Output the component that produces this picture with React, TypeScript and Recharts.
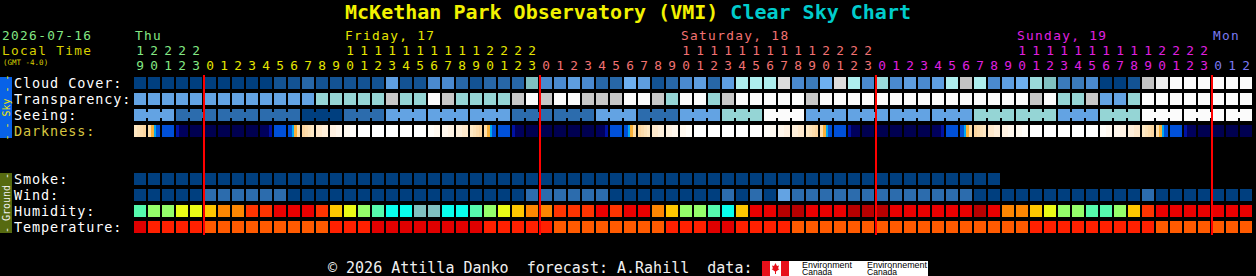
import React from 'react';
import { ScatterChart, Scatter, XAxis, YAxis, ReferenceLine } from 'recharts';

// forecast starts Thu 19:00 local, one column per hour
const startHour = 19;
const hourCount = 80;
const hours = Array.from({ length: hourCount }, (_, i) => (startHour + i) % 24);
const dayNames = ['Thu', 'Friday, 17', 'Saturday, 18', 'Sunday, 19', 'Mon'];

const rowLabels = ['Cloud Cover:', 'Transparency:', 'Seeing:', 'Darkness:', 'Smoke:', 'Wind:', 'Humidity:', 'Temperature:'];

// cloud cover level 0 (clear) .. 13 (overcast)
const cloudCover = [
  0, 0, 0, 0, 0, 0, 0, 0, 0, 0, 1, 1, 2, 1, 1, 1, 1, 1, 5, 1,
  1, 4, 4, 2, 1, 2, 2, 2, 7, 4, 4, 5, 4, 2, 2, 6, 5, 1, 2, 4,
  5, 2, 5, 9, 9, 9, 11, 4, 3, 6, 11, 9, 4, 8, 4, 5, 4, 5, 9, 10,
  9, 4, 5, 6, 8, 7, 3, 3, 4, 0, 0, 1, 10, 12, 13, 13, 13, 13, 13, 13,
];
// 0 transparent .. 4 poor, 5 too cloudy
const transparency = [
  2, 2, 2, 2, 2, 2, 2, 2, 2, 2, 2, 2, 2, 3, 3, 3, 3, 3, 4, 3,
  3, 5, 4, 3, 3, 3, 3, 4, 5, 4, 5, 5, 4, 4, 4, 5, 5, 4, 3, 5,
  5, 3, 4, 5, 5, 5, 5, 5, 4, 5, 5, 5, 5, 5, 5, 5, 5, 5, 5, 5,
  5, 5, 5, 5, 4, 5, 3, 3, 4, 2, 2, 3, 5, 5, 5, 5, 5, 5, 5, 5,
];
// 0 excellent .. 4 bad, 5 too cloudy (3-hour blocks)
const seeing = [
  2, 2, 2, 1, 1, 1, 1, 1, 1, 1, 1, 1, 0, 0, 0, 1, 1, 1, 2, 2,
  2, 2, 2, 2, 2, 2, 2, 1, 1, 1, 1, 1, 1, 2, 2, 2, 1, 1, 1, 2,
  2, 2, 3, 3, 3, 5, 5, 5, 2, 2, 2, 2, 2, 2, 2, 2, 2, 2, 2, 2,
  3, 3, 3, 3, 3, 3, 2, 2, 2, 3, 3, 3, 5, 5, 5, 5, 5, 5, 5, 5,
];
// 0 daylight .. 5 twilight .. 8 full dark
const darkness = [
  4, 5, 6, 7, 8, 8, 8, 8, 8, 7, 6, 5, 4, 3, 2, 1, 0, 0, 0, 0,
  0, 1, 2, 3, 4, 5, 6, 7, 8, 8, 8, 8, 8, 7, 6, 5, 4, 3, 2, 1,
  0, 0, 0, 0, 0, 1, 2, 3, 4, 5, 6, 7, 8, 8, 8, 8, 8, 7, 6, 5,
  4, 3, 2, 1, 0, 0, 0, 0, 0, 1, 2, 3, 4, 5, 6, 7, 8, 8, 8, 8,
];
// ug/m3, forecast shorter than the others
const smoke = [
  0, 0, 0, 0, 0, 0, 0, 0, 0, 0, 0, 0, 0, 0, 0, 0, 0, 0, 0, 0,
  0, 0, 0, 0, 0, 0, 0, 0, 0, 0, 0, 0, 0, 0, 0, 0, 0, 0, 0, 0,
  0, 0, 0, 0, 0, 0, 0, 0, 0, 0, 0, 0, 0, 0, 0, 0, 0, 0, 0, 0,
  0, 0,
];
// mph
const wind = [
  4, 4, 4, 4, 4, 8, 8, 8, 8, 8, 8, 4, 4, 4, 4, 4, 4, 4, 4, 4,
  4, 4, 4, 4, 4, 4, 4, 4, 8, 8, 8, 8, 8, 8, 4, 4, 4, 4, 4, 4,
  4, 4, 8, 4, 8, 4, 14, 8, 8, 8, 8, 8, 8, 8, 8, 8, 8, 8, 8, 8,
  4, 4, 4, 4, 4, 4, 4, 4, 4, 4, 4, 4, 8, 4, 4, 4, 4, 4, 4, 4,
];
// %
const humidity = [
  57, 62, 62, 67, 67, 72, 77, 77, 82, 82, 87, 87, 87, 82, 72, 67, 62, 57, 52, 52,
  47, 47, 52, 52, 57, 62, 67, 72, 77, 77, 82, 82, 82, 87, 82, 87, 87, 77, 72, 62,
  62, 57, 52, 72, 87, 87, 92, 92, 87, 87, 87, 92, 92, 92, 87, 87, 87, 87, 87, 87,
  92, 87, 77, 77, 72, 67, 62, 62, 57, 57, 62, 72, 82, 87, 87, 87, 87, 87, 87, 87,
];
// deg F
const temperature = [
  91, 84, 84, 84, 84, 76, 76, 76, 76, 76, 76, 76, 76, 76, 84, 84, 84, 91, 91, 91,
  91, 91, 91, 91, 91, 84, 84, 84, 84, 84, 76, 76, 76, 76, 76, 76, 76, 76, 84, 84,
  84, 91, 91, 84, 84, 84, 84, 76, 76, 76, 76, 76, 76, 76, 76, 76, 76, 76, 76, 76,
  76, 76, 76, 76, 84, 84, 84, 84, 84, 84, 84, 84, 84, 76, 76, 76, 76, 76, 76, 76,
];

const FONT = "'DejaVu Sans Mono', monospace";
const dayColors = ['#84e884', '#e6e600', '#f27272', '#e020e0', '#7a7af2'];

const cloudColors = ['#003F7F', '#135393', '#2767A7', '#3B7BBB', '#4A8AD0', '#5E9EE0', '#6EB0F0',
  '#80C0C0', '#9ADADA', '#AEEEEE', '#C4C4C4', '#DCDCDC', '#EEEEEE', '#FBFBFB'];
const skyColors = ['#003F7F', '#2C6CAD', '#63A3E3', '#95D5D5', '#C7C7C7', '#FBFBFB'];
const bucket = (stops: number[], palette: string[]) => (v: number) =>
  palette[stops.filter((s) => v >= s).length];
const smokeColor = bucket([2, 5, 10, 20], ['#003F7F', '#2C6CAD', '#63A3E3', '#95D5D5', '#C7C7C7']);
const windColor = bucket([6, 12, 17, 29, 45], skyColors);
const humidityColor = bucket(
  [25, 30, 35, 40, 45, 50, 55, 60, 65, 70, 75, 80, 85, 90, 95],
  ['#08035D', '#0D4D8D', '#3070B0', '#4E8ECE', '#71B1F1', '#80C0C0', '#09FEED', '#55FAAD',
    '#94FE6A', '#EAFB16', '#FEC600', '#FC8602', '#FE3401', '#EA0000', '#B70000', '#E10000'],
);
const tempColor = bucket([72, 81, 90], ['#FF9600', '#FF5A00', '#FF2000', '#E00000']);

// strips drawn left->right for evening; mirrored in the morning
const darkStrips: [string, number][][] = [
  [['#FFFFFF', 12]],
  [['#FFFDF9', 6], ['#FFF9F0', 6]],
  [['#FFF7EC', 6], ['#FFF2E2', 6]],
  [['#FFEFDA', 6], ['#FFE9CC', 6]],
  [['#FEE8C4', 3], ['#FDE2B8', 3], ['#FDDCAC', 3], ['#FCD6A0', 3]],
  [['#FDDDA8', 3], ['#F8B038', 3], ['#00A8F0', 2], ['#0050D8', 4]],
  [['#0050D8', 12]],
  [['#0012A4', 3], ['#00005C', 9]],
  [['#000050', 12]],
];

const dayOfCol: number[] = [];
hours.forEach((h, i) => dayOfCol.push(i === 0 ? 0 : dayOfCol[i - 1] + (h === 0 ? 1 : 0)));
const dayLabelCol = dayNames.map((_, d) => {
  const cols = hours.map((h, i) => i).filter((i) => dayOfCol[i] === d);
  const ten = cols.find((i) => hours[i] === 10);
  return ten !== undefined ? ten : cols[0];
});
const midnightCols = hours.map((h, i) => i).filter((i) => i > 0 && hours[i] === 0);

const cell = (color: (v: number) => string, bridge = false) => (p: any) => {
  const { cx, cy, payload } = p;
  const c = color(payload.v);
  return (
    <g>
      <rect x={cx} y={cy - 6} width={12} height={12} fill={c} />
      {bridge && payload.col % 3 !== 2 && payload.col < hourCount - 1 && (
        <rect x={cx + 12} y={cy - 3} width={2} height={6} fill={c} />
      )}
    </g>
  );
};

const darkCell = (p: any) => {
  const { cx, cy, payload } = p;
  const i = payload.col;
  const prev = darkness[i - 1] ?? payload.v;
  const next = darkness[i + 1] ?? payload.v;
  const strips = next >= prev ? darkStrips[payload.v] : [...darkStrips[payload.v]].reverse();
  let x = cx;
  return (
    <g>
      {strips.map(([c, w], k) => {
        const r = <rect key={k} x={x} y={cy - 6} width={w} height={12} fill={c} />;
        x += w;
        return r;
      })}
    </g>
  );
};

const rows = [
  { slot: 0, values: cloudCover, shape: cell((v) => cloudColors[v]) },
  { slot: 1, values: transparency, shape: cell((v) => skyColors[v]) },
  { slot: 2, values: seeing, shape: cell((v) => skyColors[v], true) },
  { slot: 3, values: darkness, shape: darkCell },
  { slot: 6, values: smoke, shape: cell(smokeColor) },
  { slot: 7, values: wind, shape: cell(windColor) },
  { slot: 8, values: humidity, shape: cell(humidityColor) },
  { slot: 9, values: temperature, shape: cell(tempColor) },
];
const slots = rows.map((r) => r.slot);

const HourTick = (p: any) => {
  const { x, payload } = p;
  const col = payload.value as number;
  const h = hours[col];
  const d = dayOfCol[col];
  const fill = dayColors[d];
  return (
    <g fontFamily={FONT} fontSize={12.8} fill={fill}>
      {dayLabelCol[d] === col && <text x={x + 1} y={40} letterSpacing={1.33}>{dayNames[d]}</text>}
      {h >= 10 && <text x={x + 6} y={55} textAnchor="middle">{Math.floor(h / 10)}</text>}
      <text x={x + 6} y={70} textAnchor="middle">{h % 10}</text>
    </g>
  );
};

const RowTick = (p: any) => {
  const { y, payload } = p;
  const idx = slots.indexOf(payload.value);
  return (
    <text x={14} y={y + 5} fontFamily={FONT} fontSize={13.5} letterSpacing={0.9}
      fill={idx === 3 ? '#d6c640' : '#ffffff'}>
      {rowLabels[idx]}
    </text>
  );
};

export default function App() {
  return (
    <div style={{ position: 'relative', width: 1256, height: 276, background: '#000', overflow: 'hidden' }}>
      <style>{'body{margin:0;background:#000}'}</style>
      <ScatterChart width={1256} height={276} margin={{ top: 0, right: 0, bottom: 0, left: 0 }}>
        <XAxis
          type="number"
          dataKey="col"
          orientation="top"
          height={72}
          domain={[0, 1122 / 14]}
          allowDataOverflow
          ticks={hours.map((h, i) => i)}
          interval={0}
          tick={HourTick}
          axisLine={false}
          tickLine={false}
        />
        <YAxis
          type="number"
          dataKey="slot"
          width={134}
          domain={[-0.6875, 12.0625]}
          reversed
          allowDataOverflow
          ticks={slots}
          interval={0}
          tick={RowTick}
          axisLine={false}
          tickLine={false}
        />
        {rows.map((r) => (
          <Scatter
            key={r.slot}
            data={r.values.map((v, i) => ({ col: i, slot: r.slot, v }))}
            shape={r.shape}
            isAnimationActive={false}
          />
        ))}
        {midnightCols.map((c) => (
          <ReferenceLine
            key={c}
            segment={[{ x: c, y: -0.5 }, { x: c, y: 9.5 }]}
            stroke="#ff0000"
            strokeWidth={2}
            zIndex={2000}
          />
        ))}
      </ScatterChart>
      <svg width={1256} height={276} style={{ position: 'absolute', left: 0, top: 0, pointerEvents: 'none' }}>
        <text x={628} y={19} textAnchor="middle" fontFamily={FONT} fontSize={20} fontWeight="bold">
          <tspan fill="#f2f200">McKethan Park Observatory (VMI) </tspan>
          <tspan fill="#00cccc">Clear Sky Chart</tspan>
        </text>
        <g fontFamily={FONT} letterSpacing={1.33}>
          <text x={2} y={40} fontSize={12.8} fill={dayColors[0]}>2026-07-16</text>
          <text x={2} y={55} fontSize={12.8} fill="#d8d000">Local Time</text>
        </g>
        <text x={3} y={65} fontFamily={FONT} fontSize={7.5} fill="#d8d000">(GMT -4.0)</text>
        <rect x={0} y={77} width={12} height={61} fill="#0862E8" />
        <text transform="translate(6.5,107.5) rotate(-90)" textAnchor="middle" dominantBaseline="central"
          fontFamily={FONT} fontSize={10} fill="#f0e800">- - Sky - -</text>
        <rect x={0} y={173} width={12} height={60} fill="#566A10" />
        <text transform="translate(6.5,203) rotate(-90)" textAnchor="middle" dominantBaseline="central"
          fontFamily={FONT} fontSize={10} fill="#f0f0f0">- Ground -</text>
        <text x={328} y={273} fontFamily={FONT} fontSize={15} fill="#f0f0f0" xmlSpace="preserve">
          © 2026 Attilla Danko  forecast: A.Rahill  data:
        </text>
        <rect x={762} y={261} width={27} height={15} fill="#ffffff" />
        <rect x={762} y={261} width={8} height={15} fill="#e8101a" />
        <rect x={781} y={261} width={8} height={15} fill="#e8101a" />
        <path d="M775.5 263 L777 266 L779 265.5 L778 268.5 L779.5 269 L776 271.5 L776 274 L775 274 L775 271.5 L771.5 269 L773 268.5 L772 265.5 L774 266 Z" fill="#e8101a" />
        <rect x={789} y={261} width={139} height={15} fill="#ffffff" />
        <g fontFamily="'Liberation Sans', sans-serif" fontSize={8.5} fill="#000">
          <text x={802} y={267.5} textLength={50} lengthAdjust="spacingAndGlyphs">Environment</text>
          <text x={802} y={275} textLength={30} lengthAdjust="spacingAndGlyphs">Canada</text>
          <text x={867} y={267.5} textLength={60} lengthAdjust="spacingAndGlyphs">Environnement</text>
          <text x={867} y={275} textLength={30} lengthAdjust="spacingAndGlyphs">Canada</text>
        </g>
      </svg>
    </div>
  );
}
